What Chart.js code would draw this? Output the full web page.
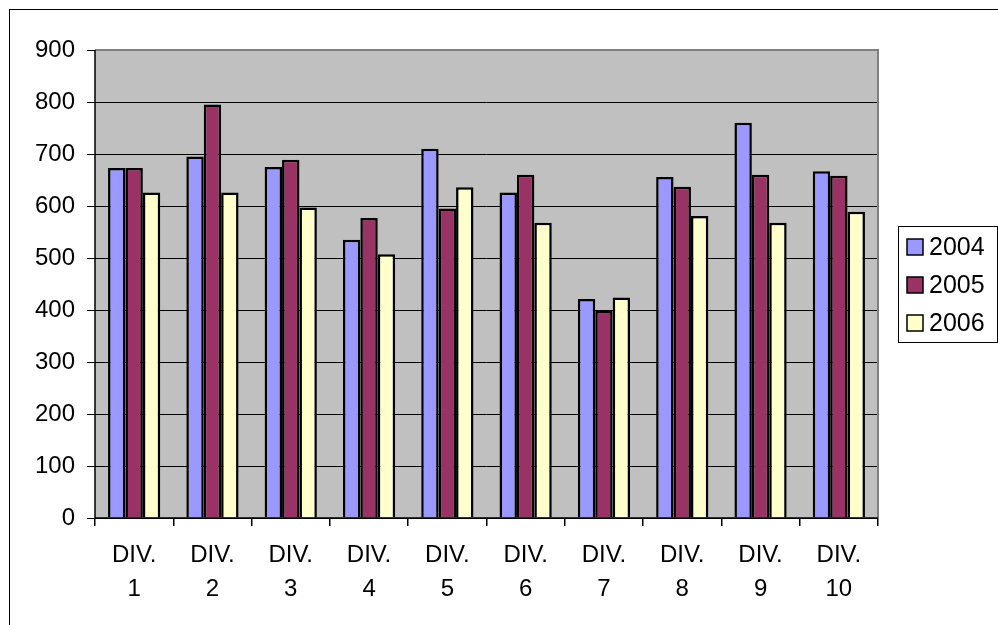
<!DOCTYPE html>
<html>
<head>
<meta charset="utf-8">
<script src="https://cdn.jsdelivr.net/npm/chart.js@4/dist/chart.umd.min.js"></script>
<style>
  html, body { margin: 0; padding: 0; background: #fff; }
  #wrap { width: 998px; height: 625px; position: relative; }
</style>
</head>
<body>
<div id="wrap"><canvas id="c" width="998" height="625"></canvas></div>
<script>
const categories = [["DIV.","1"],["DIV.","2"],["DIV.","3"],["DIV.","4"],["DIV.","5"],["DIV.","6"],["DIV.","7"],["DIV.","8"],["DIV.","9"],["DIV.","10"]];
const seriesNames = ["2004", "2005", "2006"];
const values2004 = [673, 695, 675, 535, 710, 626, 421, 656, 760, 667];
const values2005 = [673, 795, 689, 577, 595, 660, 398, 637, 660, 658];
const values2006 = [626, 626, 597, 507, 636, 568, 424, 581, 568, 589];
const colors = ["#9999FF", "#993366", "#FFFFCC"];

const FONT = "'Liberation Sans', Arial, sans-serif";

const bgPlugin = {
  id: 'bgPlugin',
  beforeDraw(chart) {
    const ctx = chart.ctx, a = chart.chartArea;
    ctx.save();
    ctx.fillStyle = '#fff';
    ctx.fillRect(0, 0, chart.width, chart.height);
    ctx.strokeStyle = '#000';
    ctx.lineWidth = 1;
    ctx.strokeRect(9.5, 9.5, chart.width, chart.height);
    ctx.fillStyle = '#C0C0C0';
    ctx.fillRect(a.left, a.top, a.right - a.left, a.bottom - a.top);
    ctx.restore();
  },
  afterDatasetsDraw(chart) {
    const ctx = chart.ctx, a = chart.chartArea;
    ctx.save();
    ctx.strokeStyle = '#808080';
    ctx.lineWidth = 2;
    ctx.beginPath();
    ctx.moveTo(a.left, a.top);
    ctx.lineTo(a.right, a.top);
    ctx.lineTo(a.right, a.bottom);
    ctx.stroke();
    ctx.strokeStyle = '#000';
    ctx.lineWidth = 1.5;
    ctx.beginPath();
    ctx.moveTo(a.left, a.top);
    ctx.lineTo(a.left, a.bottom);
    ctx.lineTo(a.right, a.bottom);
    ctx.stroke();
    const lx = 898, ly = 226, lw = 99, lh = 116;
    ctx.fillStyle = '#fff';
    ctx.fillRect(lx, ly, lw, lh);
    ctx.strokeStyle = '#000';
    ctx.lineWidth = 1;
    ctx.strokeRect(lx + 0.5, ly + 0.5, lw, lh);
    ctx.font = '25px ' + FONT;
    ctx.textBaseline = 'middle';
    chart.data.datasets.forEach((ds, i) => {
      const cy = 247 + i * 38;
      ctx.fillStyle = ds.backgroundColor;
      ctx.fillRect(907, cy - 8, 16, 16);
      ctx.lineWidth = 1.5;
      ctx.strokeStyle = '#000';
      ctx.strokeRect(907, cy - 8, 16, 16);
      ctx.fillStyle = '#000';
      ctx.fillText(ds.label, 929, cy + 1);
    });
    ctx.restore();
  }
};

new Chart(document.getElementById('c'), {
  type: 'bar',
  data: {
    labels: categories,
    datasets: [
      { label: seriesNames[0], data: values2004, backgroundColor: colors[0] },
      { label: seriesNames[1], data: values2005, backgroundColor: colors[1] },
      { label: seriesNames[2], data: values2006, backgroundColor: colors[2] }
    ]
  },
  options: {
    responsive: false,
    animation: false,
    devicePixelRatio: 1,
    layout: { padding: { left: 10, top: 50, right: 120, bottom: 0 } },
    datasets: {
      bar: {
        borderColor: '#000',
        borderWidth: 2.5,
        borderSkipped: 'bottom',
        categoryPercentage: 0.667,
        barPercentage: 1.0
      }
    },
    plugins: {
      legend: { display: false },
      tooltip: { enabled: false }
    },
    scales: {
      x: {
        afterFit(s) { s.height = 107; },
        grid: {
          offset: true,
          drawOnChartArea: false,
          drawTicks: true,
          tickLength: 8,
          color: '#000',
          lineWidth: 1.5
        },
        border: { display: false },
        ticks: {
          color: '#000',
          font: { family: FONT, size: 24, lineHeight: 1.42 },
          padding: 12,
          maxRotation: 0,
          autoSkip: false
        }
      },
      y: {
        min: 0,
        max: 900,
        afterFit(s) { s.width = 85; },
        grid: {
          color: '#000',
          lineWidth: 1,
          tickLength: 8,
          drawTicks: true
        },
        border: { display: false },
        ticks: {
          stepSize: 100,
          color: '#000',
          padding: 12,
          font: { family: FONT, size: 24 }
        }
      }
    }
  },
  plugins: [bgPlugin]
});
</script>
</body>
</html>
